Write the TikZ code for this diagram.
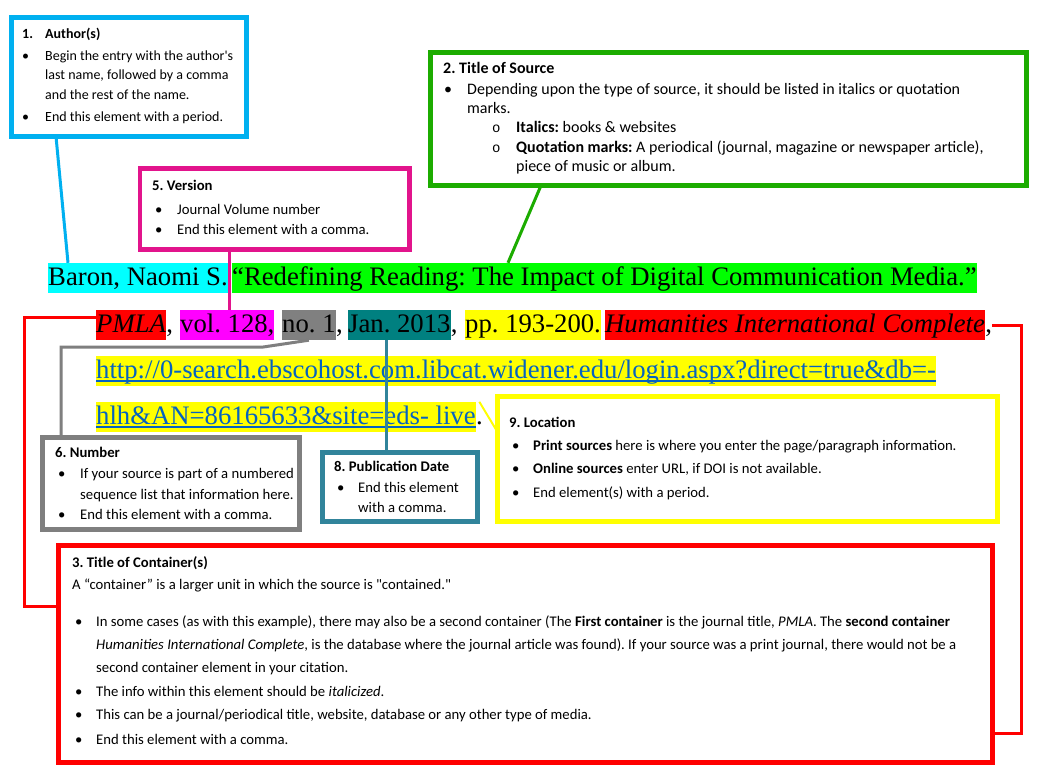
\documentclass[tikz,border=0pt]{standalone}
\usepackage{fontspec}
\newfontfamily\carl[Ligatures=TeXOff]{Carlito}
\newfontfamily\tnr{Liberation Serif}
\newfontfamily\cour{Liberation Mono}
\usetikzlibrary{calc}
\frenchspacing
\definecolor{authc}{RGB}{0,176,240}
\definecolor{titlec}{RGB}{28,172,0}
\definecolor{verc}{RGB}{226,20,140}
\definecolor{numc}{RGB}{127,127,127}
\definecolor{datec}{RGB}{49,132,155}
\definecolor{locc}{RGB}{255,255,0}
\definecolor{contc}{RGB}{255,0,0}
\definecolor{hlcyan}{RGB}{0,255,255}
\definecolor{hlgreen}{RGB}{0,255,0}
\definecolor{hlmag}{RGB}{255,0,255}
\definecolor{hlgray}{RGB}{128,128,128}
\definecolor{hlteal}{RGB}{0,128,128}
\definecolor{hlyel}{RGB}{255,255,0}
\definecolor{hlred}{RGB}{255,0,0}
\definecolor{urlc}{RGB}{5,99,193}
\tikzset{
  cbox/.style={draw=#1, line width=4.5pt, fill=white, anchor=north west, inner sep=0pt, outer sep=0pt},
  conn/.style={draw=#1, line width=3pt},
  hlite/.style={fill=#1, anchor=base west, inner xsep=0pt, inner ysep=1pt, text height=21pt, text depth=7pt, font=\tnr\fontsize{26.7}{30}\selectfont\frenchspacing},
  citetxt/.style={anchor=base west, inner xsep=0pt, inner ysep=1pt, text height=21pt, text depth=7pt, font=\tnr\fontsize{26.7}{30}\selectfont},
  btxt/.style={anchor=base west, inner sep=0pt, font=\carl\fontsize{#1}{#1}\selectfont\frenchspacing},
  btxt/.default=14.7,
  subo/.style={anchor=base west, inner sep=0pt, font=\cour\fontsize{14}{14}\selectfont},
  ulink/.style={draw=urlc, line width=1.3pt}
}
\begin{document}
\begin{tikzpicture}[x=1pt,y=-1pt]
\useasboundingbox[fill=white] (0,0) rectangle (1039,769);

% ---------- boxes ----------
\node[cbox=authc, minimum width=235pt, minimum height=119pt] (author) at (11.5,17.5) {};
\node[cbox=titlec, minimum width=596pt, minimum height=133pt] (title) at (430.5,52.5) {};
\node[cbox=verc, minimum width=269.5pt, minimum height=81pt] (vers) at (140,168.5) {};
\node[cbox=numc, minimum width=257pt, minimum height=92pt] (num) at (42.5,437.5) {};
\node[cbox=datec, minimum width=155pt, minimum height=69pt] (date) at (322.5,452.5) {};
\node[cbox=locc, minimum width=500pt, minimum height=125pt] (loc) at (497.5,396.5) {};
\node[cbox=contc, minimum width=934pt, minimum height=217pt] (cont) at (58.5,545.5) {};

% ---------- author box text ----------
\node[btxt=14] (a1n) at (22,38) {\bfseries 1.};
\node[btxt=14] (a1) at (45,38) {\bfseries Author(s)};
\node[btxt=14] (a2b) at (22,60) {•};
\node[btxt=14] (a2) at (45,60) {Begin the entry with the author's};
\node[btxt=14] (a3) at (45,79.5) {last name, followed by a comma};
\node[btxt=14] (a4) at (45,99) {and the rest of the name.};
\node[btxt=14] (a5b) at (22,121) {•};
\node[btxt=14] (a5) at (45,121) {End this element with a period.};

% ---------- title box text ----------
\node[btxt=16] (t1) at (443,73) {\bfseries 2. Title of Source};
\node[btxt=16] (t2b) at (444,94) {•};
\node[btxt=16] (t2) at (467,94) {Depending upon the type of source, it should be listed in italics or quotation};
\node[btxt=16] (t3) at (467,113) {marks.};
\node[subo] (t4o) at (492,132.5) {o};
\node[btxt=16] (t4) at (516,132.5) {\textbf{Italics:} books \& websites};
\node[subo] (t5o) at (492,152.5) {o};
\node[btxt=16] (t5) at (516,152.5) {\textbf{Quotation marks:} A periodical (journal, magazine or newspaper article),};
\node[btxt=16] (t6) at (516,171) {piece of music or album.};

% ---------- version box text ----------
\node[btxt] (v1) at (152,190.5) {\bfseries 5. Version};
\node[btxt] (v2b) at (155,214) {•};
\node[btxt] (v2) at (177,214) {Journal Volume number};
\node[btxt] (v3b) at (155,234) {•};
\node[btxt] (v3) at (177,234) {End this element with a comma.};

% ---------- number box text ----------
\node[btxt] (n1) at (55,457) {\bfseries 6. Number};
\node[btxt] (n2b) at (58,478) {•};
\node[btxt] (n2) at (80,478) {If your source is part of a numbered};
\node[btxt] (n3) at (80,499) {sequence list that information here.};
\node[btxt] (n4b) at (58,519) {•};
\node[btxt] (n4) at (80,519) {End this element with a comma.};

% ---------- publication date box text ----------
\node[btxt] (d1) at (334,471.5) {\bfseries 8. Publication Date};
\node[btxt] (d2b) at (337,492) {•};
\node[btxt] (d2) at (358,492) {End this element};
\node[btxt] (d3) at (358,512) {with a comma.};

% ---------- location box text ----------
\node[btxt] (l1) at (509,427) {\bfseries 9. Location};
\node[btxt] (l2b) at (512,450) {•};
\node[btxt] (l2) at (533,450) {\textbf{Print sources} here is where you enter the page/paragraph information.};
\node[btxt] (l3b) at (512,473) {•};
\node[btxt] (l3) at (533,473) {\textbf{Online sources} enter URL, if DOI is not available.};
\node[btxt] (l4b) at (512,497.5) {•};
\node[btxt] (l4) at (533,497.5) {End element(s) with a period.};

% ---------- container box text ----------
\node[btxt=14.7] (c1) at (72,567) {\bfseries 3. Title of Container(s)};
\node[btxt=14.7] (c2) at (72,589) {A “container” is a larger unit in which the source is "contained."};
\node[btxt=14.7] (c3b) at (75,626) {•};
\node[btxt=14.7] (c3) at (96,626) {In some cases (as with this example), there may also be a second container (The \textbf{First container} is the journal title, \textit{PMLA}. The \textbf{second container}};
\node[btxt=14.7] (c4) at (96,649) {\textit{Humanities International Complete}, is the database where the journal article was found). If your source was a print journal, there would not be a};
\node[btxt=14.7] (c5) at (96,672.5) {second container element in your citation.};
\node[btxt=14.7] (c6b) at (75,696.5) {•};
\node[btxt=14.7] (c6) at (96,696.5) {The info within this element should be \textit{italicized}.};
\node[btxt=14.7] (c7b) at (75,719.5) {•};
\node[btxt=14.7] (c7) at (96,719.5) {This can be a journal/periodical title, website, database or any other type of media.};
\node[btxt=14.7] (c8b) at (75,744) {•};
\node[btxt=14.7] (c8) at (96,744) {End this element with a comma.};

% ---------- citation ----------
\node[hlite=hlcyan] (baron) at (48,285) {Baron, Naomi S.};
\node[hlite=hlgreen] (redef) at (232,285) {“Redefining Reading: The Impact of Digital Communication Media.”};

\node[hlite=hlred] (pmla) at (96,332) {\itshape PMLA};
\node[citetxt] (cm1) at (pmla.base east) {,};
\node[hlite=hlmag] (vol) at (180,332) {vol. 128,};
\node[hlite=hlgray] (no1) at (282,332) {no. 1};
\node[citetxt] (cm2) at (no1.base east) {,};
\node[hlite=hlteal] (jan) at (348,332) {Jan. 2013};
\node[citetxt] (cm3) at (jan.base east) {,};
\node[hlite=hlyel] (pp) at (465,332) {pp. 193-200.};
\node[hlite=hlred] (hum) at (605,332) {\itshape Humanities International Complete};
\node[citetxt] (cm5) at (hum.base east) {,};

\node[hlite=hlyel, text=urlc] (url1) at (96,378) {http://0-search.ebscohost.com.libcat.widener.edu/login.aspx?direct=true\&db=-};
\node[hlite=hlyel, text=urlc] (url2) at (96,424) {hlh\&AN=86165633\&site=eds- live};
\node[citetxt] (dot) at (url2.base east) {.};
\draw[ulink] ($(url1.base west)+(0,3)$) -- ($(url1.base east)+(0,3)$);
\draw[ulink] ($(url2.base west)+(0,3)$) -- ($(url2.base east)+(0,3)$);

% ---------- connectors ----------
\draw[conn=authc] ([xshift=-73pt]author.south) -- ([xshift=20pt]baron.north west);
\draw[conn=titlec] ([xshift=-187.5pt]title.south) -- ([xshift=276pt]redef.north west);
\draw[conn=verc] ([xshift=-45.75pt]vers.south) -- ([xshift=49pt]vol.north west);
\draw[conn=contc] ([yshift=8pt]pmla.west) -| ([xshift=-34.5pt,yshift=48pt]cont.west) -- ([yshift=48pt]cont.west);
\draw[conn=contc] (cm5.east) -| ([xshift=28.5pt,yshift=-79pt]cont.east) -- ([yshift=-79pt]cont.east);
\draw[conn=numc] (no1.south) -- ++(-47,7) -| ([xshift=-110pt]num.north);
\draw[conn=datec] ([xshift=-13pt]jan.south) -- ([xshift=-13pt]jan.south |- date.north);
\draw[conn=locc, line width=2pt] (dot.north) -- ([yshift=-35.5pt]loc.north west);
\end{tikzpicture}
\end{document}
